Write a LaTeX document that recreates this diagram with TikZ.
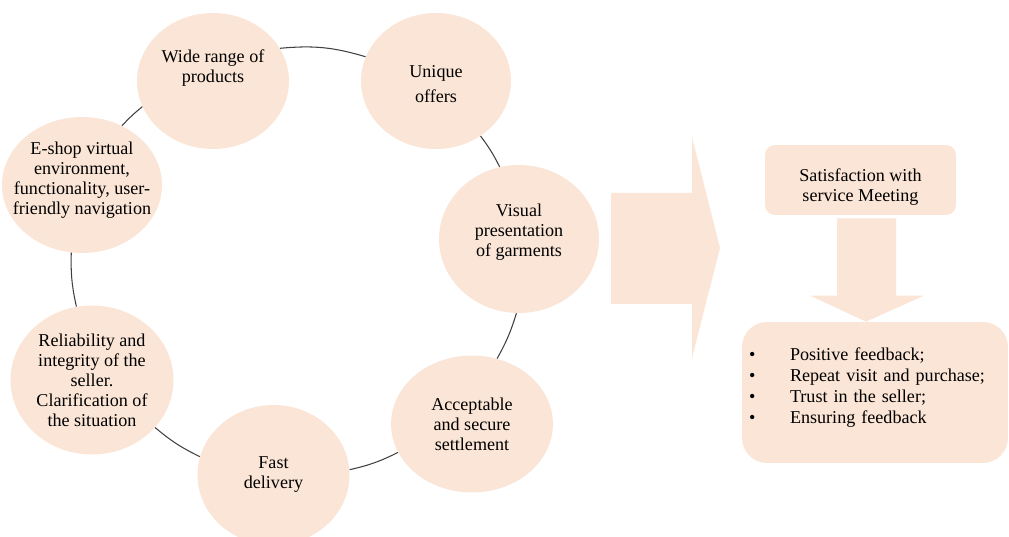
\documentclass[tikz,border=0pt]{standalone}
\usepackage{fontspec}
\setmainfont{Liberation Serif}
\usepackage{xcolor}
\usetikzlibrary{shapes,calc}
\definecolor{peach}{RGB}{251, 229, 214}
\definecolor{ringgray}{RGB}{64, 64, 64}
\newcommand{\bubfont}{\fontsize{10.3}{11.4}\selectfont}
\newcommand{\lstfont}{\fontsize{10.3}{12}\selectfont}

\begin{document}
\begin{tikzpicture}[x=0.02cm, y=-0.02cm]
    \tikzstyle{bub} = [ellipse, fill=peach, inner sep=0pt, minimum width=3.04cm, minimum height=2.72cm]
    \tikzstyle{btxt} = [font=\bubfont, align=center, inner sep=0pt]
    \tikzstyle{ring} = [draw=ringgray, line width=0.6pt]
    \tikzstyle{pbox} = [fill=peach, font=\bubfont, align=center]

    \useasboundingbox (0,0) rectangle (1009,537);

    % factors around the ring
    \node[bub, label={[btxt, yshift=0.26cm]center:Wide range of\\products}] (wide) at (213,81) {};
    \node[bub, minimum width=3.0cm, label={[btxt, yshift=-0.07cm]center:Unique\\[0.1cm]offers}] (uniq) at (436,81) {};
    \node[bub, minimum width=3.2cm, minimum height=2.96cm, label={[btxt, yshift=0.14cm]center:Visual\\presentation\\of garments}] (visual) at (519,239) {};
    \node[bub, minimum width=3.24cm, minimum height=2.74cm, label={[btxt]center:Acceptable\\and secure\\settlement}] (accept) at (472,424) {};
    \node[bub, minimum height=2.8cm, label={[btxt]center:Fast\\delivery}] (fast) at (273.5,475) {};
    \node[bub, minimum width=3.26cm, minimum height=2.98cm, label={[btxt]center:Reliability and\\integrity of the\\seller.\\Clarification of\\the situation}] (reliab) at (92,380) {};
    \node[bub, minimum width=3.2cm, label={[btxt, yshift=0.1cm]center:E-shop virtual\\environment,\\functionality, user-\\friendly navigation}] (eshop) at (82,185) {};

    \draw[ring] (wide.26) to[bend left=11] (uniq.161);
    \draw[ring] (uniq.-51) to[bend left=5] (visual.105);
    \draw[ring] (visual.-92) to[bend left=6] (accept.69);
    \draw[ring] (accept.201) to[bend left=7] (fast.4);
    \draw[ring] (fast.166) to[bend left=7] (reliab.-37);
    \draw[ring] (reliab.102) to[bend left=7] (eshop.-99);
    \draw[ring] (eshop.56) to[bend left=4] (wide.200);

    % big arrow
    \fill[peach] (611,193) -- (692,193) -- (692,137) -- (720,248) -- (692,358) -- (692,304) -- (611,304) -- cycle;

    % outcome boxes
    \node[pbox, rounded corners=0.2cm, minimum width=3.82cm, minimum height=1.4cm, label={[btxt, yshift=-0.14cm]center:Satisfaction with\\service Meeting}] (sat) at (860.5,180) {};
    \node[pbox, rounded corners=0.5cm, minimum width=5.32cm, minimum height=2.82cm, label={[btxt, font=\lstfont, text width=5.04cm, align=left, yshift=0.1cm]center:
        \makebox[0.82cm][l]{\textbullet}Positive feedback;\\
        \makebox[0.82cm][l]{\textbullet}Repeat visit and purchase;\\
        \makebox[0.82cm][l]{\textbullet}Trust in the seller;\\
        \makebox[0.82cm][l]{\textbullet}Ensuring feedback}] (res) at (875,392.5) {};

    \fill[peach] ($(sat.south)+(-23.5,3)$) -- ($(sat.south)+(35.5,3)$) -- ($(res.north)+(21,-26)$) -- ($(res.north)+(49,-26)$)
        -- ($(res.north)+(-9,0)$) -- ($(res.north)+(-65,-26)$) -- ($(res.north)+(-38,-26)$) -- cycle;
\end{tikzpicture}
\end{document}
